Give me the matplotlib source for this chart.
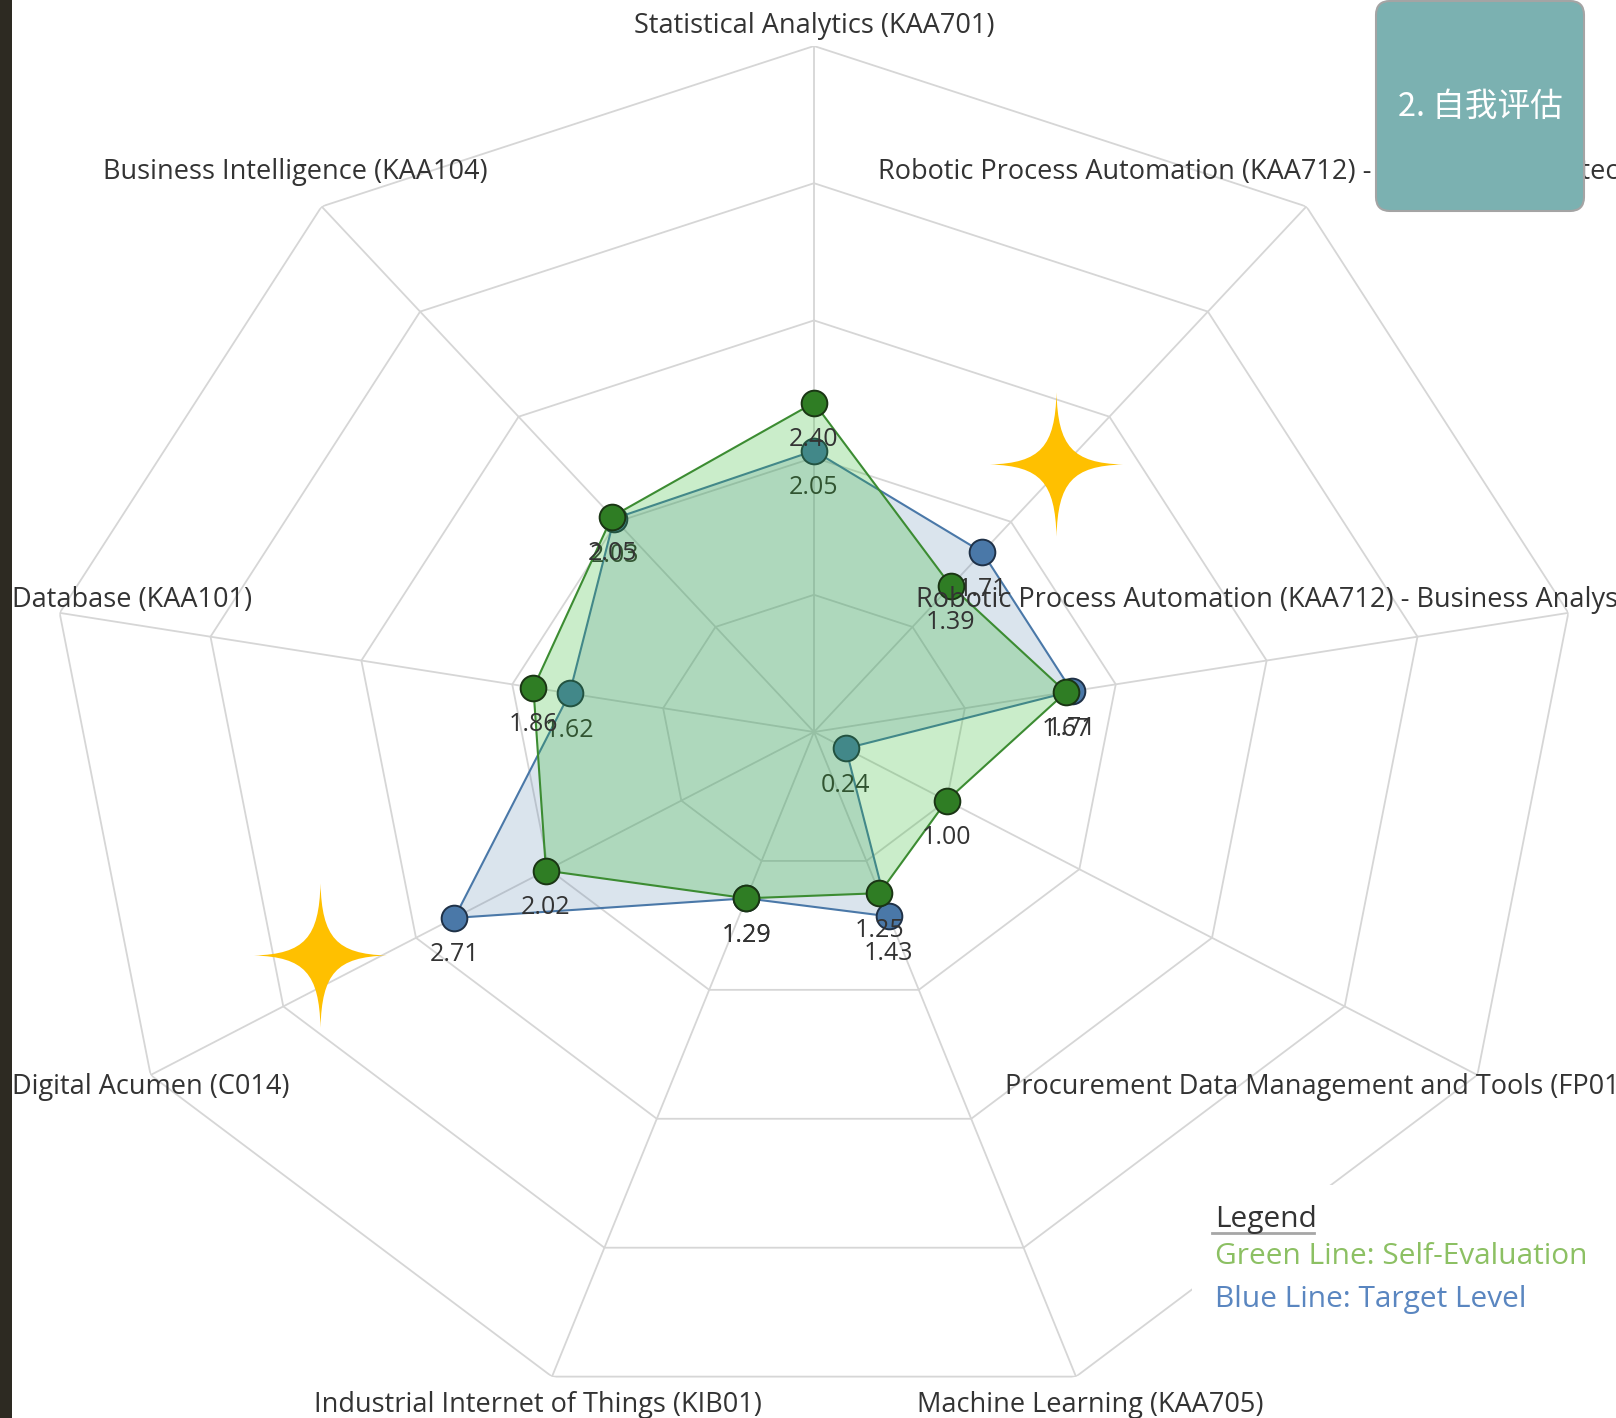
import numpy as np
import matplotlib
matplotlib.use("Agg")
import matplotlib.pyplot as plt
from matplotlib.patches import Rectangle, FancyBboxPatch
from matplotlib.lines import Line2D
from matplotlib.path import Path
from matplotlib.transforms import IdentityTransform

# skills on the radar, clockwise from the top
skills = [
    "Statistical Analytics (KAA701)",
    "Robotic Process Automation (KAA712) - Developer Architect",
    "Robotic Process Automation (KAA712) - Business Analyst",
    "Procurement Data Management and Tools (FP01)",
    "Machine Learning (KAA705)",
    "Industrial Internet of Things (KIB01)",
    "Digital Acumen (C014)",
    "Database (KAA101)",
    "Business Intelligence (KAA104)",
]
self_eval = [2.40, 1.39, 1.67, 1.00, 1.25, 1.29, 2.02, 1.86, 2.05]   # green
target = [2.05, 1.71, 1.71, 0.24, 1.43, 1.29, 2.71, 1.62, 2.03]      # blue
rings = [1, 2, 3, 4, 5]

# yellow stars (degrees clockwise from top, radius)
star_theta = [39.0, 243.2]
star_r = [2.51, 3.61]

W, H = 1616, 1418
plt.rcParams['font.family'] = ['Open Sans', 'DejaVu Sans']

fig = plt.figure(figsize=(W / 100, H / 100), dpi=100)
ax = fig.add_axes([48 / W, 0, 1532 / W, 1372 / H], projection='polar')
ax.set_aspect('auto')
ax.set_theta_zero_location('N')
ax.set_theta_direction(-1)
ax.set_ylim(0, rings[-1])
ax.axis('off')

n = len(skills)
theta = np.arange(n) * 2 * np.pi / n


def close(v):
    return np.append(v, v[0])


# polygon grid
for r in rings:
    ax.plot(close(theta), [r] * (n + 1), color='#d6d6d6', lw=1.3, zorder=1)
for t in theta:
    ax.plot([t, t], [0, rings[-1]], color='#d6d6d6', lw=1.3, zorder=1)

# target level (blue)
ax.fill(close(theta), close(target), color='#4a78a8', alpha=0.2, lw=0, zorder=2)
ax.plot(close(theta), close(target), color='#4a78a8', lw=1.5, zorder=3)
ax.plot(theta, target, ls='', marker='o', ms=18.5, mfc='#4a78a8', mec='#1f3147', mew=1.4, zorder=3)
for t, v in zip(theta, target):
    ax.annotate(f"{v:.2f}", (t, v), xytext=(0, -37), textcoords='offset pixels',
                ha='center', va='center', fontsize=18, color='#333333', zorder=3)

# self evaluation (green)
ax.fill(close(theta), close(self_eval), color='#2db82d', alpha=0.25, lw=0, zorder=4)
ax.plot(close(theta), close(self_eval), color='#3c8c32', lw=1.5, zorder=5)
ax.plot(theta, self_eval, ls='', marker='o', ms=18.5, mfc='#2f7d24', mec='#1a3514', mew=1.4, zorder=5)
for t, v in zip(theta, self_eval):
    ax.annotate(f"{v:.2f}", (t, v), xytext=(0, -37), textcoords='offset pixels',
                ha='center', va='center', fontsize=18, color='#333333', zorder=6)

# four point stars
star = Path(
    [(0, 1), (0.02, 0.25), (0.22, 0.02), (0.92, 0),
     (0.22, -0.02), (0.02, -0.25), (0, -1),
     (-0.02, -0.25), (-0.22, -0.02), (-0.92, 0),
     (-0.22, 0.02), (-0.02, 0.25), (0, 1), (0, 1)],
    [Path.MOVETO, Path.CURVE4, Path.CURVE4, Path.CURVE4,
     Path.CURVE4, Path.CURVE4, Path.CURVE4,
     Path.CURVE4, Path.CURVE4, Path.CURVE4,
     Path.CURVE4, Path.CURVE4, Path.CURVE4, Path.CLOSEPOLY])
ax.plot(np.deg2rad(star_theta), star_r, ls='', marker=star, ms=104,
        mfc='#ffc000', mec='#ffc000', mew=0, zorder=7)

# axis labels just outside the outer ring, kept inside the picture
fig.canvas.draw()
labels = []
for t, s in zip(theta, skills):
    x, y = ax.transData.transform((t, rings[-1] + 0.27))
    labels.append(fig.text(x, y + 6.5, s, transform=IdentityTransform(), ha='center',
                           va='center', fontsize=19.5, color='#333333', zorder=8))
renderer = fig.canvas.get_renderer()
for txt in labels:
    bb = txt.get_window_extent(renderer)
    x, y = txt.get_position()
    if bb.x0 < 12:
        x += 12 - bb.x0
    elif bb.x1 > W + 12:
        x -= bb.x1 - (W + 12)
    if bb.y1 > H - 12:
        y -= bb.y1 - (H - 12)
    txt.set_position((x, y))

# dark strip on the left edge
fig.add_artist(Rectangle((0, 0), 12, H, transform=IdentityTransform(),
                         facecolor='#2d2a22', edgecolor='none', zorder=9))

# button
fig.add_artist(FancyBboxPatch((1376, H - 211), 208, 210, boxstyle='round,pad=0,rounding_size=14',
                              transform=IdentityTransform(), facecolor='#7bb1b1',
                              edgecolor='#a4a4a4', lw=1.5, zorder=9))
fig.text(1480, H - 107, "2. 自我评估", transform=IdentityTransform(), ha='center', va='center',
         fontsize=23.5, color='white', family=['Noto Sans CJK SC', 'DejaVu Sans'], zorder=10)

# legend box
fig.add_artist(Rectangle((1192, H - 1330), 424, 145, transform=IdentityTransform(),
                         facecolor='white', edgecolor='none', zorder=9))
fig.text(1215, H - 1219, "Legend", transform=IdentityTransform(), ha='left', va='center',
         fontsize=21.5, color='#333333', zorder=10)
fig.add_artist(Line2D([1212, 1314], [H - 1233, H - 1233], transform=IdentityTransform(),
                      color='#a6a6a6', lw=2, zorder=10))
fig.text(1215, H - 1257, "Green Line: Self-Evaluation", transform=IdentityTransform(),
         ha='left', va='center', fontsize=21.5, color='#8cc063', zorder=10)
fig.text(1215, H - 1300, "Blue Line: Target Level", transform=IdentityTransform(),
         ha='left', va='center', fontsize=21.5, color='#5a86c0', zorder=10)

fig.savefig('out.png', dpi=100, facecolor='white')
